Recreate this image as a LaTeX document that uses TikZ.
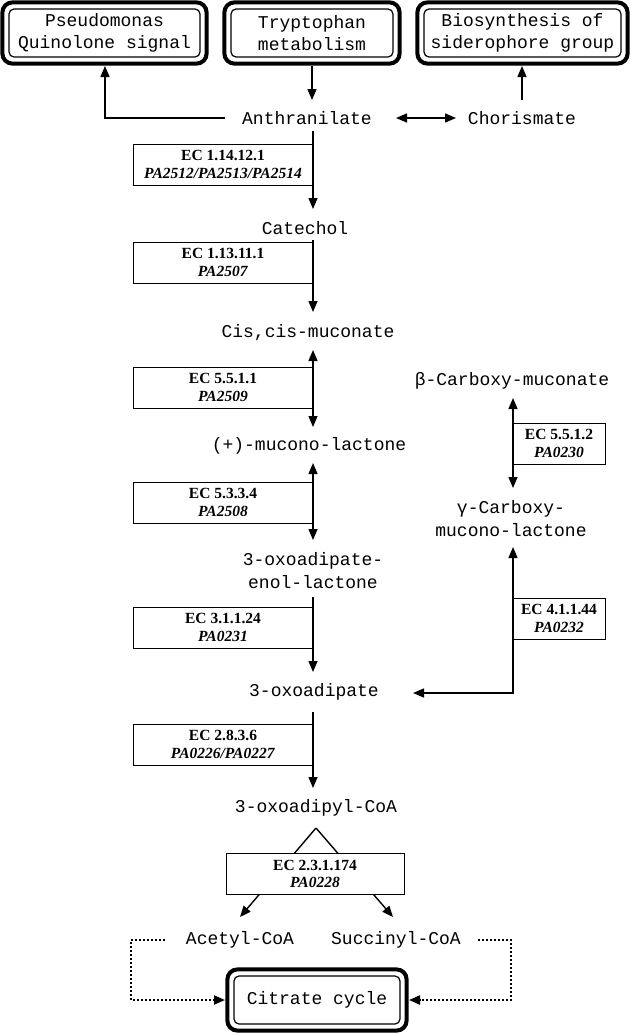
\documentclass[tikz,border=0pt]{standalone}
\usepackage{fontspec}
\newfontfamily\monofont{Liberation Mono}
\newfontfamily\ecfont{Liberation Serif}
\usetikzlibrary{arrows.meta,backgrounds}
\newcommand\ecl[2]{\textbf{EC #1}\\\textbf{\textit{#2}}}
\tikzset{
 met/.style={font=\monofont\fontsize{18}{23}\selectfont, inner sep=0pt, align=center},
 ecbox/.style={draw, line width=1pt, fill=white, font=\ecfont\fontsize{15.5}{17.5}\selectfont, align=center, minimum height=41pt, inner sep=0pt},
 pbox/.style={draw, line width=1.2pt, rounded corners=5pt, font=\monofont\fontsize{18}{22}\selectfont, align=center, inner sep=0pt},
 frame/.style={line width=4pt, rounded corners=10pt},
 arr/.style={line width=1.4pt, -{Triangle[length=11pt,width=9pt]}},
 darr/.style={line width=1.4pt, {Triangle[length=11pt,width=9pt]}-{Triangle[length=11pt,width=9pt]}},
 dotarr/.style={line width=2pt, dash pattern=on 2pt off 2pt, -{Triangle[length=11pt,width=9pt]}}
}
\begin{document}
\begin{tikzpicture}[x=1pt,y=-1pt]
\useasboundingbox (0,0) rectangle (630,1034);
% ---- top boxes ----
\node[pbox, minimum width=191pt, minimum height=48pt] (pqs) at (104.5,33) {Pseudomonas\\Quinolone signal};
\draw[frame] ([shift={(-6,-6)}]pqs.north west) rectangle ([shift={(6,6)}]pqs.south east);
\node[pbox, minimum width=162pt, minimum height=48pt] (trp) at (312,33) {Tryptophan\\metabolism};
\draw[frame] ([shift={(-6,-6)}]trp.north west) rectangle ([shift={(6,6)}]trp.south east);
\node[pbox, minimum width=197pt, minimum height=48pt] (sid) at (522.5,33) {Biosynthesis of\\siderophore group};
\draw[frame] ([shift={(-6,-6)}]sid.north west) rectangle ([shift={(6,6)}]sid.south east);
% ---- citrate cycle ----
\node[pbox, minimum width=166pt, minimum height=48pt] (cit) at (317,1000) {Citrate cycle};
\draw[frame] ([shift={(-6,-6)}]cit.north west) rectangle ([shift={(6,6)}]cit.south east);
% ---- metabolites ----
\node[met] (anthr) at (307,118) {Anthranilate};
\node[met] (chor) at (522,118) {Chorismate};
\node[met] (cat) at (305,228) {Catechol};
\node[met] (cis) at (308,333) {Cis,cis-muconate};
\node[met] (muc) at (309,446) {(+)-mucono-lactone};
\node[met] (enol) at (313,571) {3-oxoadipate-\\enol-lactone};
\node[met] (oxo) at (314,692) {3-oxoadipate};
\node[met] (coa) at (316,808) {3-oxoadipyl-CoA};
\node[met] (beta) at (512,381) {β-Carboxy-muconate};
\node[met] (gam) at (511,519) {γ-Carboxy-\\mucono-lactone};
\node[met] (acet) at (240,940) {Acetyl-CoA};
\node[met] (succ) at (396,940) {Succinyl-CoA};
% ---- enzyme boxes ----
\node[ecbox, minimum width=180pt] (e1) at (223,164.5) {\ecl{1.14.12.1}{PA2512/PA2513/PA2514}};
\node[ecbox, minimum width=180pt] (e2) at (223,262.5) {\ecl{1.13.11.1}{PA2507}};
\node[ecbox, minimum width=180pt] (e3) at (223,387.5) {\ecl{5.5.1.1}{PA2509}};
\node[ecbox, minimum width=180pt] (e4) at (223,502.5) {\ecl{5.3.3.4}{PA2508}};
\node[ecbox, minimum width=180pt] (e5) at (223,627.5) {\ecl{3.1.1.24}{PA0231}};
\node[ecbox, minimum width=180pt] (e6) at (223,744.5) {\ecl{2.8.3.6}{PA0226/PA0227}};
\node[ecbox, minimum width=92pt] (r1) at (559,443.5) {\ecl{5.5.1.2}{PA0230}};
\node[ecbox, minimum width=92pt] (r2) at (559,618.5) {\ecl{4.1.1.44}{PA0232}};
\node[ecbox, minimum width=178pt] (e7) at (315,874) {\ecl{2.3.1.174}{PA0228}};
% ---- connector end points ----
\coordinate (t1s) at (225,118); \coordinate (t1e) at (105,66);
\coordinate (t2s) at (312,66);  \coordinate (t2e) at (312,100);
\coordinate (t3s) at (396,118); \coordinate (t3e) at (456,118);
\coordinate (t4s) at (522,100); \coordinate (t4e) at (522,66);
\coordinate (a1s) at (313,131); \coordinate (a1e) at (313,209);
\coordinate (a2s) at (313,240); \coordinate (a2e) at (313,312);
\coordinate (a3s) at (313,350); \coordinate (a3e) at (313,427);
\coordinate (a4s) at (313,463); \coordinate (a4e) at (313,540);
\coordinate (a5s) at (313,597); \coordinate (a5e) at (313,672);
\coordinate (a6s) at (313,712); \coordinate (a6e) at (313,788);
\coordinate (b1s) at (513,398); \coordinate (b1e) at (513,488);
\coordinate (g1s) at (513,547); \coordinate (g1e) at (413,693);
\coordinate (apex) at (316,828);
\coordinate (tipL) at (240,917); \coordinate (tipR) at (393,917);
\coordinate (dl1) at (165,940); \coordinate (dl3) at (225,1000);
\coordinate (dr1) at (478,940); \coordinate (dr3) at (409,1000);
% ---- connectors ----
\draw[arr] (t1s) -| (t1e);
\draw[arr] (t2s) -- (t2e);
\draw[darr] (t3s) -- (t3e);
\draw[arr] (t4s) -- (t4e);
\draw[arr] (a1s) -- (a1e);
\draw[arr] (a2s) -- (a2e);
\draw[darr] (a3s) -- (a3e);
\draw[darr] (a4s) -- (a4e);
\draw[arr] (a5s) -- (a5e);
\draw[arr] (a6s) -- (a6e);
\draw[darr] (b1s) -- (b1e);
\draw[darr] (g1s) |- (g1e);
\begin{scope}[on background layer]
\draw[arr] (apex) -- (tipL);
\draw[arr] (apex) -- (tipR);
\end{scope}
\draw[dotarr] (dl1) -| ++(-34,0) |- (dl3);
\draw[dotarr] (dr1) -| ++(33,0) |- (dr3);
\end{tikzpicture}
\end{document}
